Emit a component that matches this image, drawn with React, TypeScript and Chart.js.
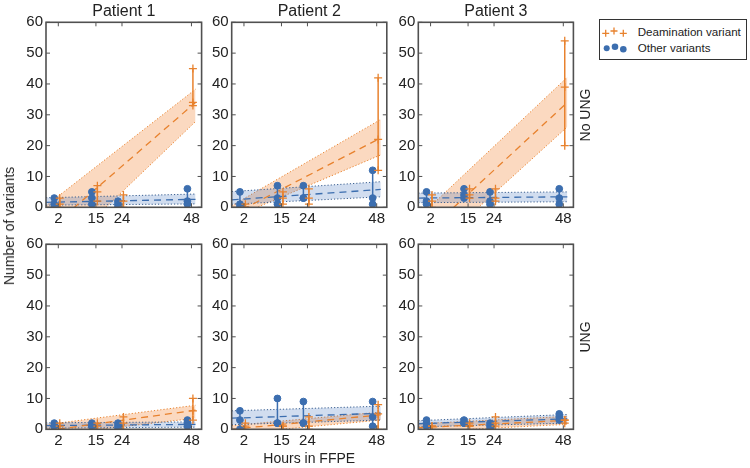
import React, { useEffect, useRef } from 'react';
import { Chart, registerables } from 'chart.js';

Chart.register(...registerables);

// ---------- data ----------
const HOURS = [2, 15, 24, 48];
const X_TICKS = [2, 15, 24, 48];
const Y_TICKS = [0, 10, 20, 30, 40, 50, 60];
const PATIENTS = ['Patient 1', 'Patient 2', 'Patient 3'];
const CONDITIONS = ['No UNG', 'UNG'];
const X_TITLE = 'Hours in FFPE';
const Y_TITLE = 'Number of variants';
const LEGEND_LABELS = ['Deamination variant', 'Other variants'];

// replicate counts at each hour (deamination = orange, other = blue)
const deamNoUng1 = [[3, 1, 0], [7, 5, 2], [4, 2, 0], [45, 34, 33]];
const deamNoUng2 = [[1, 0, 0], [5, 3, 1], [6, 3, 1], [42, 22, 12]];
const deamNoUng3 = [[4, 2, 0], [6, 4, 3], [6, 3, 2], [54, 39, 20]];
const deamUng1 = [[2, 1, 0], [2, 1, 0], [4, 2, 0], [10, 6, 3]];
const deamUng2 = [[2, 1, 0], [1, 1, 0], [4, 1, 0], [8, 5, 0]];
const deamUng3 = [[1, 1, 0], [2, 1, 1], [4, 2, 1], [3, 3, 2]];

const otherNoUng1 = [[3, 1, 0], [5, 3, 1], [2, 1, 0], [6, 2, 1]];
const otherNoUng2 = [[5, 1, 0], [7, 3, 1], [7, 3, 3], [12, 3, 1]];
const otherNoUng3 = [[5, 2, 1], [6, 4, 3], [5, 2, 1], [6, 3, 1]];
const otherUng1 = [[2, 1, 1], [2, 1, 1], [2, 1, 0], [3, 2, 1]];
const otherUng2 = [[6, 3, 0], [10, 2, 2], [9, 2, 2], [9, 4, 1]];
const otherUng3 = [[3, 2, 1], [3, 2, 2], [2, 1, 0], [5, 4, 3]];

// fitted trend (mid) and band (hi / lo), values at FIT_X ends
const FIT_X = [-2.25, 49.4];
const deamFitNoUng1 = { mid: [-8, 34], hi: [0.5, 38.3], lo: [-18.6, 27.8] };
const deamFitNoUng2 = { mid: [-2.5, 22.5], hi: [0.5, 28.5], lo: [-3.5, 17] };
const deamFitNoUng3 = { mid: [-10.6, 34], hi: [-3.4, 42.2], lo: [-17.8, 26.1] };
const deamFitUng1 = { mid: [-0.5, 6.2], hi: [1.5, 7.8], lo: [-2, 3.6] };
const deamFitUng2 = { mid: [0, 4.7], hi: [1.2, 5.6], lo: [-1.5, 3.0] };
const deamFitUng3 = { mid: [0.5, 2.9], hi: [1.8, 4.2], lo: [-0.8, 1.6] };

const otherFitNoUng1 = { mid: [1.6, 2.6], hi: [3.1, 4.3], lo: [0.7, 1.1] };
const otherFitNoUng2 = { mid: [2.4, 5.8], hi: [5.1, 8.3], lo: [1.0, 3.4] };
const otherFitNoUng3 = { mid: [3.0, 3.4], hi: [4.6, 5.0], lo: [1.5, 1.8] };
const otherFitUng1 = { mid: [1.2, 1.6], hi: [2.1, 2.4], lo: [0.4, 0.7] };
const otherFitUng2 = { mid: [3.6, 5.2], hi: [6.0, 7.5], lo: [1.5, 3.0] };
const otherFitUng3 = { mid: [1.8, 3.4], hi: [2.8, 4.8], lo: [0.8, 2.0] };

const PANELS = [
  { row: 0, col: 0, deam: deamNoUng1, other: otherNoUng1, deamFit: deamFitNoUng1, otherFit: otherFitNoUng1 },
  { row: 0, col: 1, deam: deamNoUng2, other: otherNoUng2, deamFit: deamFitNoUng2, otherFit: otherFitNoUng2 },
  { row: 0, col: 2, deam: deamNoUng3, other: otherNoUng3, deamFit: deamFitNoUng3, otherFit: otherFitNoUng3 },
  { row: 1, col: 0, deam: deamUng1, other: otherUng1, deamFit: deamFitUng1, otherFit: otherFitUng1 },
  { row: 1, col: 1, deam: deamUng2, other: otherUng2, deamFit: deamFitUng2, otherFit: otherFitUng2 },
  { row: 1, col: 2, deam: deamUng3, other: otherUng3, deamFit: deamFitUng3, otherFit: otherFitUng3 },
];

// ---------- styles / layout ----------
const FONT = '"Liberation Sans", Arial, Helvetica, sans-serif';
const TEXT = '#222222';
const FRAME = '#505050';
const BLUE = '#3C6EAF';
const BLUE_EDGE = '#3A5F90';
const BLUE_FILL = 'rgba(70,120,190,0.25)';
const ORANGE = '#E8822E';
const ORANGE_FILL = 'rgba(244,150,80,0.36)';

const W = 750;
const H = 468;
const COL_LEFT = [46, 231.7, 418.3];
const COL_RIGHT = [201.6, 386.8, 573.4];
const ROW_TOP = [22.3, 244.3];
const ROW_BOTTOM = [207.3, 429.3];
const Y_AXIS_W = 40;
const X_AXIS_H = 24;
const X_MIN = -2.25;
const X_MAX = 51.5;
const OTHER_OFFSET = -1.4;
const DEAM_OFFSET = 0.5;
const TICK_LEN = 4;

const framePlugin = {
  id: 'frameTicks',
  afterDraw(chart: any) {
    const { ctx, chartArea: a, scales } = chart;
    const x = scales.x;
    const y = scales.y;
    ctx.save();
    ctx.strokeStyle = FRAME;
    ctx.lineWidth = 1;
    ctx.beginPath();
    X_TICKS.forEach((v) => {
      const px = x.getPixelForValue(v);
      ctx.moveTo(px, a.bottom);
      ctx.lineTo(px, a.bottom - TICK_LEN);
      ctx.moveTo(px, a.top);
      ctx.lineTo(px, a.top + TICK_LEN);
    });
    Y_TICKS.forEach((v) => {
      const py = y.getPixelForValue(v);
      ctx.moveTo(a.left, py);
      ctx.lineTo(a.left + TICK_LEN, py);
      ctx.moveTo(a.right, py);
      ctx.lineTo(a.right - TICK_LEN, py);
    });
    ctx.stroke();
    ctx.lineWidth = 1.6;
    ctx.strokeRect(a.left, a.top, a.right - a.left, a.bottom - a.top);
    ctx.restore();
  },
};

function lineSet(ys: number[], color: string, dash: number[], width: number, order: number, extra: any = {}) {
  return {
    data: FIT_X.map((x, i) => ({ x, y: ys[i] })),
    borderColor: color,
    borderWidth: width,
    borderDash: dash,
    pointRadius: 0,
    fill: false,
    tension: 0,
    order,
    ...extra,
  };
}

function errSet(vals: number[][], offset: number, color: string, order: number) {
  const data: any[] = [];
  HOURS.forEach((h, i) => {
    const v = vals[i];
    data.push({ x: h + offset, y: Math.min(...v) });
    data.push({ x: h + offset, y: Math.max(...v) });
    data.push({ x: h + offset, y: null });
  });
  return { data, borderColor: color, borderWidth: 1.5, pointRadius: 0, spanGaps: false, fill: false, order };
}

function markerSet(vals: number[][], offset: number, style: string, color: string, order: number) {
  const data: any[] = [];
  HOURS.forEach((h, i) => vals[i].forEach((v) => data.push({ x: h + offset, y: v })));
  return {
    data,
    showLine: false,
    pointStyle: style,
    pointRadius: style === 'cross' ? 4 : 3.4,
    pointBorderWidth: style === 'cross' ? 1.3 : 1,
    pointBorderColor: color,
    pointBackgroundColor: color,
    borderColor: color,
    backgroundColor: color,
    fill: false,
    order,
  };
}

function buildConfig(p: any): any {
  const L = COL_LEFT[p.col];
  const R = COL_RIGHT[p.col];
  const T = ROW_TOP[p.row];
  const B = ROW_BOTTOM[p.row];
  const datasets = [
    lineSet(p.deamFit.hi, ORANGE, [1.2, 2], 1, 30),
    lineSet(p.deamFit.lo, ORANGE, [1.2, 2], 1, 30, { fill: '-1', backgroundColor: ORANGE_FILL }),
    lineSet(p.otherFit.hi, BLUE_EDGE, [1.2, 2], 1, 25),
    lineSet(p.otherFit.lo, BLUE_EDGE, [1.2, 2], 1, 25, { fill: '-1', backgroundColor: BLUE_FILL }),
    lineSet(p.otherFit.mid, BLUE, [7, 5], 1.3, 10),
    lineSet(p.deamFit.mid, ORANGE, [7, 5], 1.3, 9),
    errSet(p.other, OTHER_OFFSET, BLUE, 5),
    errSet(p.deam, DEAM_OFFSET, ORANGE, 4),
    markerSet(p.other, OTHER_OFFSET, 'circle', BLUE, 3),
    markerSet(p.deam, DEAM_OFFSET, 'cross', ORANGE, 2),
  ];
  const tickFont = { family: FONT, size: 15 };
  return {
    type: 'line',
    data: { datasets },
    options: {
      responsive: false,
      animation: false,
      events: [],
      layout: { padding: { left: L - Y_AXIS_W, right: W - R, top: T, bottom: H - B - X_AXIS_H } },
      plugins: { legend: { display: false }, tooltip: { enabled: false }, title: { display: false } },
      scales: {
        x: {
          type: 'linear',
          min: X_MIN,
          max: X_MAX,
          grid: { display: false, drawTicks: false },
          border: { display: false },
          afterBuildTicks: (s: any) => { s.ticks = X_TICKS.map((value) => ({ value })); },
          afterFit: (s: any) => { s.height = X_AXIS_H; },
          ticks: { color: TEXT, font: tickFont, padding: 3, autoSkip: false, maxRotation: 0 },
        },
        y: {
          type: 'linear',
          min: 0,
          max: 60,
          grid: { display: false, drawTicks: false },
          border: { display: false },
          afterBuildTicks: (s: any) => { s.ticks = Y_TICKS.map((value) => ({ value })); },
          afterFit: (s: any) => { s.width = Y_AXIS_W; },
          ticks: { color: TEXT, font: tickFont, padding: 3, autoSkip: false },
        },
      },
    },
    plugins: [framePlugin],
  };
}

export default function App() {
  const refs = useRef<(HTMLCanvasElement | null)[]>([]);
  useEffect(() => {
    const charts = PANELS.map((p, i) => new Chart(refs.current[i] as HTMLCanvasElement, buildConfig(p)));
    return () => charts.forEach((c) => c.destroy());
  }, []);

  const abs: any = { position: 'absolute', whiteSpace: 'nowrap', color: TEXT, fontFamily: FONT };
  const rot = (cx: number, cy: number, size: number, text: string, key: string) => (
    <div
      key={key}
      style={{
        ...abs,
        left: cx,
        top: cy,
        fontSize: size,
        lineHeight: `${size}px`,
        transform: 'translate(-50%, -50%) rotate(-90deg)',
      }}
    >
      {text}
    </div>
  );

  return (
    <div style={{ position: 'absolute', left: 0, top: 0, width: W, height: H, background: '#fff', overflow: 'hidden' }}>
      {PANELS.map((p, i) => (
        <canvas
          key={i}
          ref={(el) => { refs.current[i] = el; }}
          width={W}
          height={H}
          style={{ position: 'absolute', left: 0, top: 0 }}
        />
      ))}
      {PATIENTS.map((t, c) => (
        <div
          key={t}
          style={{
            ...abs,
            left: (COL_LEFT[c] + COL_RIGHT[c]) / 2 - 100,
            width: 200,
            textAlign: 'center',
            top: 3.3,
            fontSize: 16,
            lineHeight: '16px',
          }}
        >
          {t}
        </div>
      ))}
      {CONDITIONS.map((t, r) => rot(585.3, (ROW_TOP[r] + ROW_BOTTOM[r]) / 2, 14, t, t))}
      {rot(8.5, (ROW_TOP[0] + ROW_BOTTOM[1]) / 2, 14, Y_TITLE, 'ytitle')}
      <div
        style={{
          ...abs,
          left: (COL_LEFT[1] + COL_RIGHT[1]) / 2 - 100,
          width: 200,
          textAlign: 'center',
          top: 451.3,
          fontSize: 14,
          lineHeight: '14px',
        }}
      >
        {X_TITLE}
      </div>
      <div
        style={{
          position: 'absolute',
          left: 599,
          top: 19,
          width: 148,
          height: 40.5,
          boxSizing: 'border-box',
          border: '1.4px solid #333',
          background: '#fff',
        }}
      />
      <svg style={{ position: 'absolute', left: 599, top: 19 }} width={148} height={41}>
        {[[6.7, 14.3], [15, 12], [24.3, 14.3]].map(([x, y], i) => (
          <path key={'p' + i} d={`M${x - 3.5},${y}H${x + 3.5}M${x},${y - 3.5}V${y + 3.5}`} stroke={ORANGE} strokeWidth={1.3} />
        ))}
        {[[7.7, 29.3, 3], [16, 27.7, 3.3], [24.3, 30.3, 3.3]].map(([x, y, r], i) => (
          <circle key={'c' + i} cx={x} cy={y} r={r} fill={BLUE} />
        ))}
      </svg>
      {LEGEND_LABELS.map((t, i) => (
        <div key={t} style={{ ...abs, left: 637.7, top: 25.9 + i * 16, fontSize: 11.6, lineHeight: '11.6px' }}>
          {t}
        </div>
      ))}
    </div>
  );
}
